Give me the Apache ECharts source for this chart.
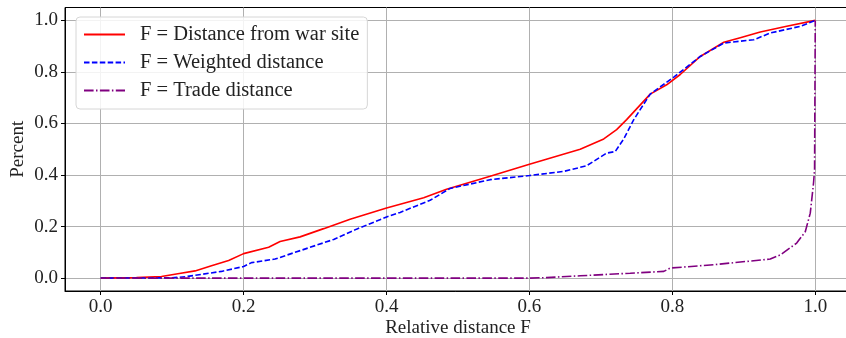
<!DOCTYPE html>
<html>
<head>
<meta charset="utf-8">
<script src="https://cdn.jsdelivr.net/npm/echarts@6/dist/echarts.min.js"></script>
<style>
html, body { margin: 0; padding: 0; background: #fff; }
#chart { width: 846px; height: 338px; }
</style>
</head>
<body>
<div id="chart"></div>
<script>
// cumulative shares
var warX = [0, 0.05, 0.085, 0.11, 0.132, 0.155, 0.179, 0.2, 0.235, 0.251, 0.279, 0.312, 0.349, 0.4, 0.452, 0.484, 0.545, 0.6, 0.671, 0.704, 0.722, 0.736, 0.769, 0.792, 0.811, 0.839, 0.872, 0.895, 0.923, 0.96, 1.0];
var warY = [0, 0.002, 0.006, 0.018, 0.028, 0.048, 0.068, 0.095, 0.12, 0.142, 0.16, 0.192, 0.228, 0.272, 0.312, 0.345, 0.395, 0.442, 0.5, 0.54, 0.576, 0.615, 0.714, 0.75, 0.79, 0.86, 0.915, 0.933, 0.955, 0.977, 1.0];

var wX = [0, 0.1, 0.12, 0.169, 0.2, 0.211, 0.244, 0.272, 0.326, 0.358, 0.4, 0.419, 0.461, 0.489, 0.545, 0.6, 0.648, 0.68, 0.708, 0.72, 0.732, 0.746, 0.769, 0.802, 0.839, 0.872, 0.914, 0.937, 0.979, 1.0];
var wY = [0, 0.001, 0.006, 0.026, 0.045, 0.06, 0.074, 0.1, 0.15, 0.19, 0.237, 0.255, 0.302, 0.348, 0.382, 0.398, 0.414, 0.436, 0.485, 0.491, 0.54, 0.615, 0.714, 0.78, 0.86, 0.912, 0.925, 0.951, 0.977, 1.0];

var tX = [0, 0.6, 0.624, 0.671, 0.741, 0.788, 0.797, 0.858, 0.937, 0.951, 0.974, 0.986, 0.993, 0.9976, 0.999, 1.0];
var tY = [0, 0, 0.002, 0.009, 0.019, 0.026, 0.039, 0.052, 0.074, 0.09, 0.136, 0.18, 0.252, 0.37, 0.42, 1.0];

var names = ['F = Distance from war site', 'F = Weighted distance', 'F = Trade distance'];
var ticks = [0, 0.2, 0.4, 0.6, 0.8, 1.0];

function pairs(xs, ys) {
    var out = [];
    for (var i = 0; i < xs.length; i++) out.push([xs[i], ys[i]]);
    return out;
}

var font = 'Liberation Serif';
var chart = echarts.init(document.getElementById('chart'));

function axisCommon(name) {
    return {
        type: 'value',
        min: -0.05,
        max: 1.05,
        name: name,
        nameLocation: 'middle',
        nameMoveOverlap: false,
        nameTextStyle: { fontFamily: font, fontSize: 19, color: '#222' },
        axisLine: { onZero: false, lineStyle: { color: '#000', width: 1 } },
        axisTick: { show: true, customValues: ticks, length: 4, lineStyle: { color: '#000' } },
        axisLabel: {
            customValues: ticks,
            fontFamily: font, fontSize: 19, color: '#222',
            formatter: function (v) { return v.toFixed(1); }
        },
        splitLine: { show: true, lineStyle: { color: '#b0b0b0', width: 1 } }
    };
}

var xAx = axisCommon('Relative distance F');
xAx.nameGap = 28;
xAx.axisLabel.margin = 7;
var yAx = axisCommon('Percent');
yAx.nameGap = 37;
yAx.axisLabel.margin = 7;

var option = {
    animation: false,
    grid: {
        left: 65, right: -5, top: 7.5, bottom: 47,
        outerBoundsMode: 'none', containLabel: false,
        show: true, borderColor: '#000', borderWidth: 1
    },
    xAxis: xAx,
    yAxis: yAx,
    legend: {
        orient: 'vertical',
        left: 76,
        top: 17,
        padding: [7, 8, 8, 7],
        itemWidth: 41,
        itemHeight: 14,
        itemGap: 7,
        backgroundColor: 'rgba(255,255,255,0.85)',
        borderColor: '#d6d6d6',
        borderWidth: 1,
        borderRadius: 4,
        itemStyle: { opacity: 0 },
        textStyle: { fontFamily: font, fontSize: 20.5, lineHeight: 20.5, color: '#222', padding: [0, 0, 0, 10] },
        data: names
    },
    series: [
        {
            name: names[0], type: 'line', showSymbol: false, symbol: 'none',
            data: pairs(warX, warY),
            lineStyle: { color: '#ff0000', width: 1.6 }, itemStyle: { color: '#ff0000' }, z: 3
        },
        {
            name: names[1], type: 'line', showSymbol: false, symbol: 'none',
            data: pairs(wX, wY),
            lineStyle: { color: '#0000ff', width: 1.6, type: [5.5, 2.4] }, itemStyle: { color: '#0000ff' }, z: 4
        },
        {
            name: names[2], type: 'line', showSymbol: false, symbol: 'none',
            data: pairs(tX, tY),
            lineStyle: { color: '#800080', width: 1.6, type: [9.6, 2.4, 1.5, 2.4] }, itemStyle: { color: '#800080' }, z: 5
        }
    ]
};
chart.setOption(option);
</script>
</body>
</html>
